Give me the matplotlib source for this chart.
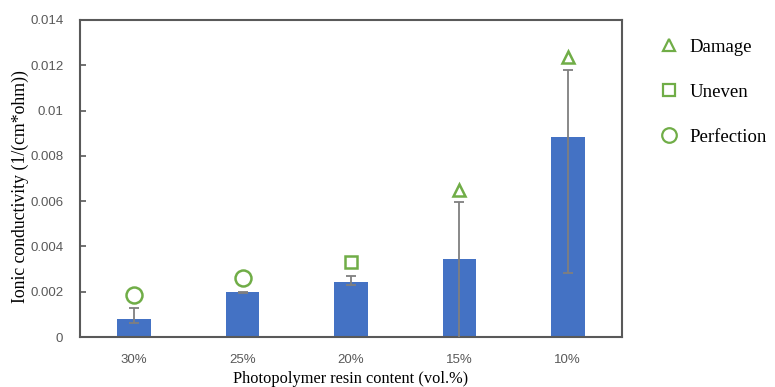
import matplotlib
matplotlib.use("Agg")
import matplotlib.pyplot as plt
from matplotlib.lines import Line2D
import numpy as np

categories = ["30%", "25%", "20%", "15%", "10%"]
conductivity = [0.00081, 0.00197, 0.00241, 0.00343, 0.00882]
err_lower = [0.00018, 0.00003, 0.00011, 0.0036, 0.0060]
err_upper = [0.00048, 0.00003, 0.00027, 0.00253, 0.00297]
status = ["Perfection", "Perfection", "Uneven", "Damage", "Damage"]
status_y = [0.00185, 0.0026, 0.0033, 0.0065, 0.01235]
legend_order = ["Damage", "Uneven", "Perfection"]
y_ticks = [0, 0.002, 0.004, 0.006, 0.008, 0.01, 0.012, 0.014]
y_ticklabels = ["0", "0.002", "0.004", "0.006", "0.008", "0.01", "0.012", "0.014"]

markers = {"Damage": "^", "Uneven": "s", "Perfection": "o"}
msizes = {"Damage": 8, "Uneven": 8.5, "Perfection": 11.5}
leg_msizes = {"Damage": 8, "Uneven": 8, "Perfection": 10.5}
green = "#70AD47"
gray = "#595959"

fig = plt.figure(figsize=(7.75, 3.87), dpi=100)
ax = fig.add_axes([80/775, 1-337/387, (622-80)/775, (337-20)/387])

x = np.arange(len(categories))
ax.bar(x, conductivity, width=0.31, color="#4472C4", zorder=2)
ax.errorbar(x, conductivity, yerr=[err_lower, err_upper], fmt="none",
            ecolor="#7F7F7F", elinewidth=1.3, capsize=3.5, capthick=1.3, zorder=3)

for s in legend_order:
    xs = [xi for xi, st in zip(x, status) if st == s]
    ys = [yi for yi, st in zip(status_y, status) if st == s]
    ax.plot(xs, ys, linestyle="none", marker=markers[s], markersize=msizes[s],
            markerfacecolor="none", markeredgecolor=green, markeredgewidth=1.8,
            zorder=4, clip_on=False)

ax.set_xlim(-0.5, 4.5)
ax.set_ylim(0, 0.014)
ax.set_yticks(y_ticks)
ax.set_yticklabels(y_ticklabels)
ax.set_xticks(x)
ax.set_xticklabels(categories)
ax.tick_params(axis="y", direction="in", length=4, width=1.2, color=gray,
               labelcolor=gray, labelsize=9.5, pad=12)
ax.tick_params(axis="x", length=0, labelcolor=gray, labelsize=9.5, pad=12)
for lab in ax.get_xticklabels() + ax.get_yticklabels():
    lab.set_family(["Liberation Sans", "DejaVu Sans"])
for sp in ax.spines.values():
    sp.set_color(gray)
    sp.set_linewidth(1.5)

ax.set_ylabel("Ionic conductivity (1/(cm*ohm))", family="Liberation Serif",
              fontsize=12.8, va="center")
ax.yaxis.set_label_coords(-0.11, 0.476)
ax.set_xlabel("Photopolymer resin content (vol.%)", family="Liberation Serif",
              fontsize=11.8, labelpad=4)

handles = [Line2D([], [], linestyle="none", marker=markers[s],
                  markersize=leg_msizes[s],
                  markerfacecolor="none", markeredgecolor=green, markeredgewidth=1.6)
           for s in legend_order]
leg = fig.legend(handles, legend_order, loc="upper left",
                 bbox_to_anchor=(641/775, 1-22/387), frameon=False,
                 prop={"family": "Liberation Serif", "size": 13.5},
                 labelspacing=1.48, handletextpad=0.5, handlelength=1.2,
                 borderpad=0.4)

fig.savefig("out.png", dpi=100)
